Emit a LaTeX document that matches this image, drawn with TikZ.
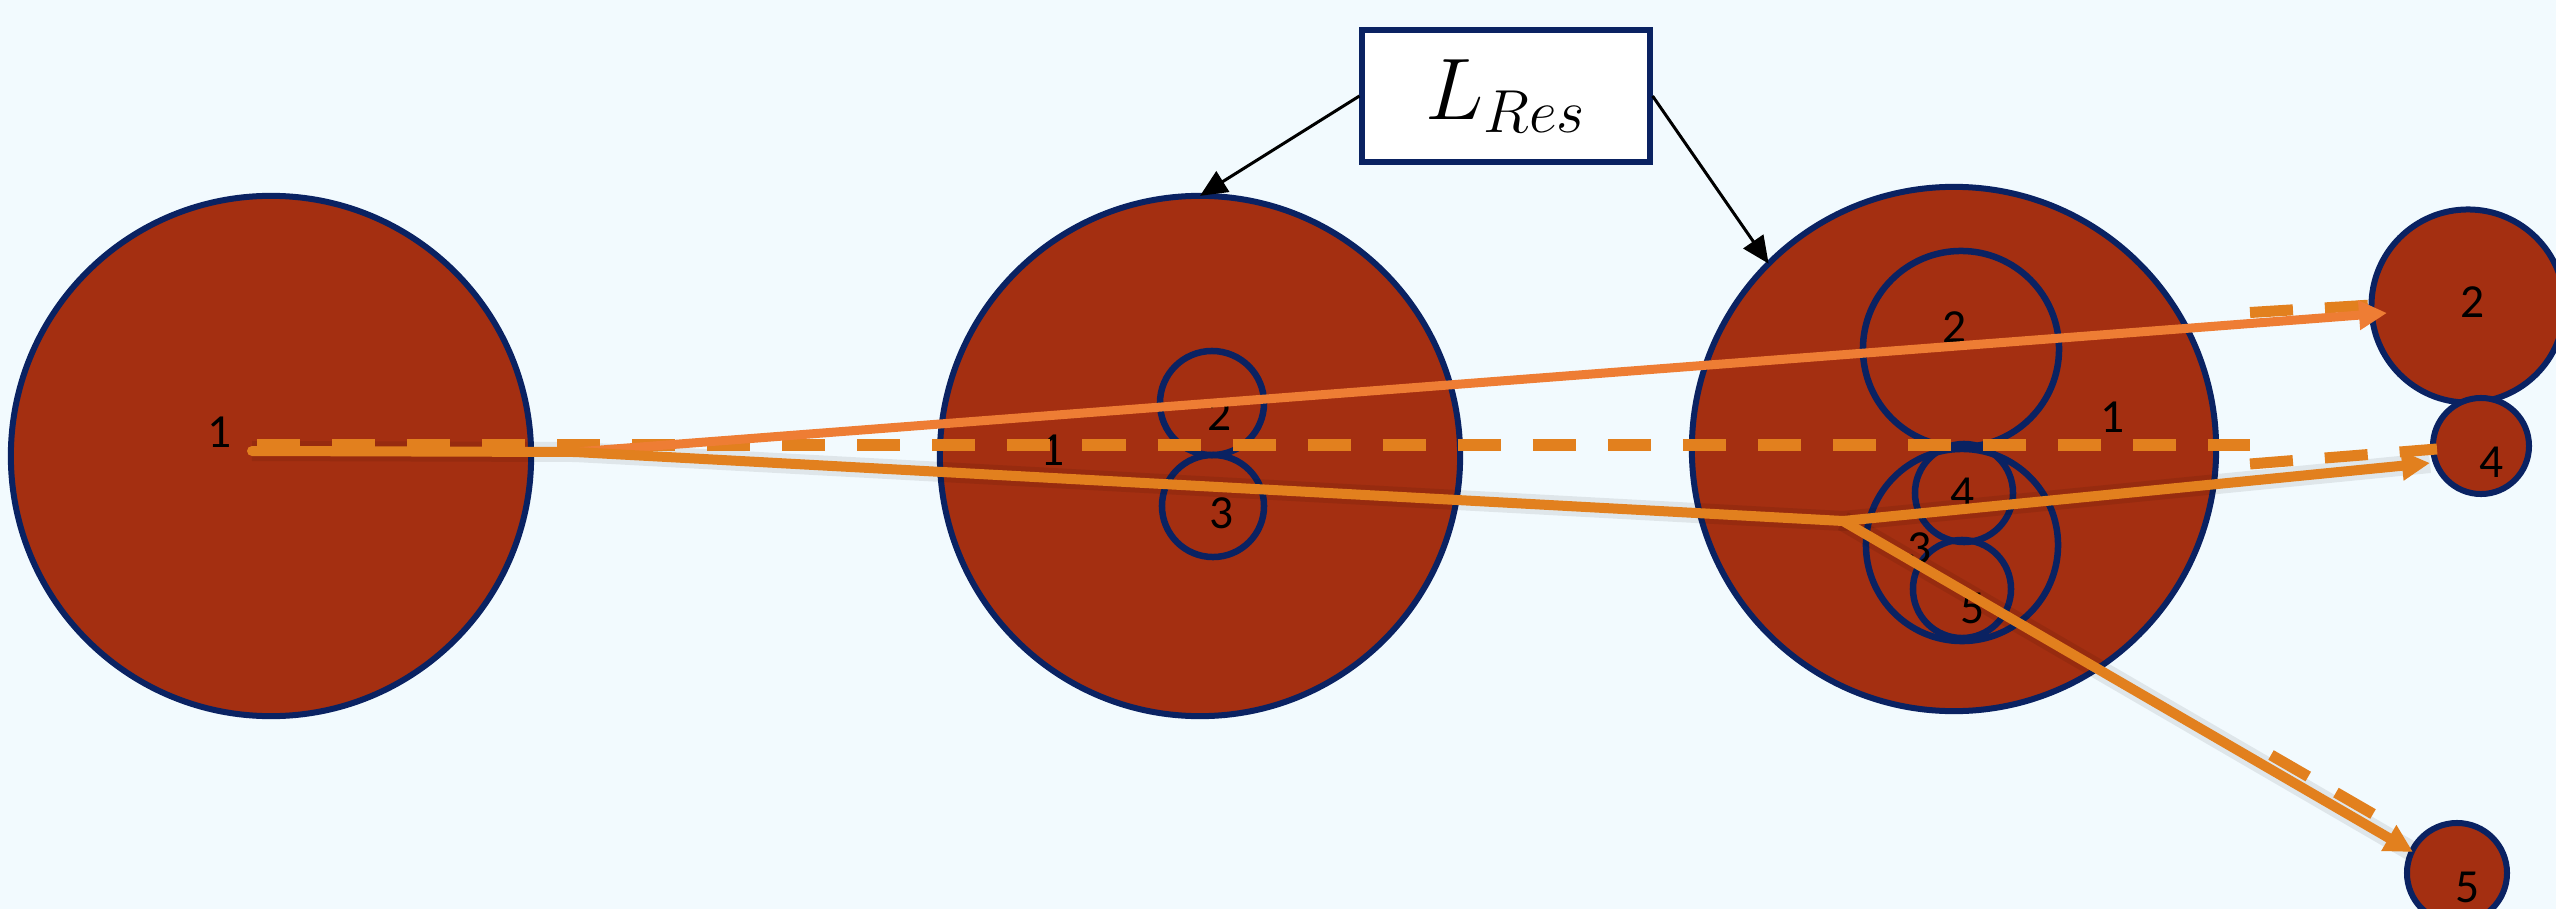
\documentclass[tikz,border=0pt]{standalone}
\usepackage{fontspec}
\newfontfamily\lblfont{Carlito}
\usetikzlibrary{arrows.meta}
\definecolor{bgc}{RGB}{242,250,254}
\definecolor{rust}{RGB}{164,47,17}
\definecolor{navy}{RGB}{10,34,98}
\definecolor{orA}{RGB}{226,128,30}
\definecolor{orB}{RGB}{238,125,52}
\begin{document}
\begin{tikzpicture}[x=0.01cm,y=-0.01cm,
  bigc/.style={circle,draw=navy,fill=rust,line width=0.06cm,inner sep=0pt,outer sep=0pt},
  innc/.style={circle,draw=navy,line width=0.065cm,inner sep=0pt,outer sep=0pt},
  lbl/.style={font=\lblfont\fontsize{13.5}{16}\selectfont,inner sep=0pt},
  oline/.style={draw=orA,line width=0.1cm,line join=round},
  olineB/.style={draw=orB,line width=0.09cm,line join=round},
  shad/.style={draw=black,opacity=0.08,line width=0.2cm,line join=round},
  dline/.style={draw=orA,line width=0.11cm,dash pattern=on 0.43cm off 0.32cm},
  otip/.style={-{Triangle[length=0.28cm,width=0.28cm]}},
  btip/.style={draw=black,line width=0.03cm,-{Triangle[length=0.27cm,width=0.24cm]}}
]
\fill[bgc] (0,0) rectangle (2556,909);
\useasboundingbox (0,0) rectangle (2556,909);

% big circles
\node[bigc,minimum size=5.20cm] (A) at (271,456) {};
\node[bigc,minimum size=5.20cm] (B) at (1200,456) {};
\node[bigc,minimum size=5.24cm] (C) at (1954,449) {};
% right small circles
\node[bigc,minimum size=1.93cm] (R2) at (2468,306) {};
\node[bigc,minimum size=0.96cm] (R4) at (2481,446) {};
\node[bigc,minimum size=1.00cm] (R5) at (2457,873) {};

% inner circles of B
\node[innc,minimum size=1.04cm] (B2) at (1212,403) {};
\node[innc,minimum size=1.02cm] (B3) at (1213,506) {};
% inner circles of C
\node[innc,minimum size=1.96cm] (C2) at (1961,349) {};
\node[innc,minimum size=1.92cm] (C3) at (1962,545) {};
\node[innc,minimum size=0.98cm] (C4) at (1964,493) {};
\node[innc,minimum size=0.98cm] (C5) at (1962,589) {};

% labels
\node[lbl] (lA1) at (220,432) {1};
\node[lbl] (lB1) at (1053,450) {1};
\node[lbl] (lB2) at (1220,415) {2};
\node[lbl] (lB3) at (1222,513) {3};
\node[lbl] (lC1) at (2113,417) {1};
\node[lbl] (lC2) at (1955,327) {2};
\node[lbl] (lC3) at (1920,548) {3};
\node[lbl] (lC4) at (1963,493) {4};
\node[lbl] (lC5) at (1973,608) {5};
\node[lbl] (lR2) at (2473,302) {2};
\node[lbl] (lR4) at (2492,462) {4};
\node[lbl] (lR5) at (2468,887) {5};

% L_Res box
\node[draw=navy,fill=white,line width=0.06cm,minimum width=2.87cm,minimum height=1.32cm,inner sep=0pt,
  font=\fontsize{23}{28}\selectfont] (Lres) at (1506,96) {$L_{Res}$};
\draw[btip] (Lres.west) -- (B.north);
\draw[btip] (Lres.east) -- (C.135);

% coordinates for orange paths
\coordinate (dS) at (257,445);
\coordinate (dE) at (2250,445);
\coordinate (d2s) at (2250,312.5);
\coordinate (d2e) at (2372,305);
\coordinate (d4s) at (2250,464);
\coordinate (d4e) at (2437,449);
\coordinate (d5s) at (2271,755);
\coordinate (d5e) at (2373,814);
\coordinate (s0) at (252,451);
\coordinate (J1) at (575,452);
\coordinate (J2) at (1843,521);
\coordinate (t2) at (2387,313);
\coordinate (t4) at (2430,463);
\coordinate (t5) at (2413,852);

% soft shadows
\begin{scope}[yshift=-0.09cm]
\draw[shad] (s0) -- (J1) -- (J2) -- (t4);
\draw[shad] (J2) -- (t5);
\end{scope}

% dashed lines
\draw[dline] (dS) -- (dE);
\draw[dline] (d2s) -- (d2e);
\draw[dline] (d4s) -- (d4e);
\draw[dline] (d5s) -- (d5e);

% solid lines
\draw[olineB,otip,fill=orB] (J1) -- (t2);
\draw[oline,line cap=round] (s0) -- (J1) -- (J2);
\draw[oline,otip] (J2) -- (t4);
\draw[oline,otip] (J2) -- (t5);
\end{tikzpicture}
\end{document}
